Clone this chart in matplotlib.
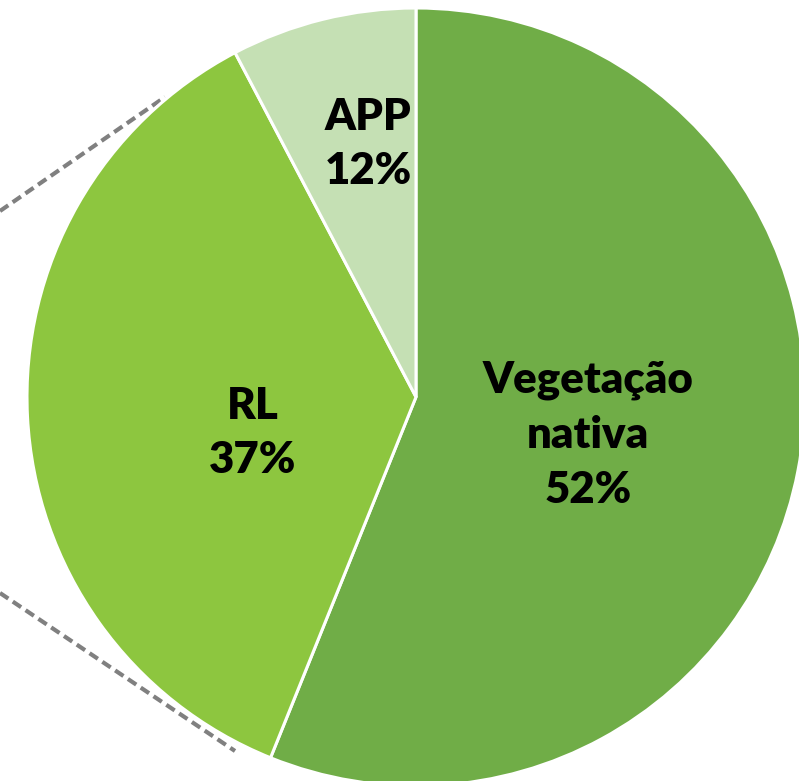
import matplotlib
matplotlib.use('Agg')
import matplotlib.pyplot as plt

names = ['Vegetação\nnativa', 'RL', 'APP']
shares = [56.1, 36.2, 7.7]
pct_text = ['52%', '37%', '12%']
colors = ['#70AD47', '#8DC63F', '#C5E0B4']

# connector lines of the pie-of-pie (pixel coords, y from top)
upper_line = ([0, 165], [211, 97])
lower_line = ([0, 235], [593, 751])

W, H = 799, 781
fig = plt.figure(figsize=(W / 100, H / 100), dpi=100)
ax = fig.add_axes([0, 0, 1, 1])

# dashed connectors go under the pie
for xs, ys in (upper_line, lower_line):
  ax.plot(xs, [H - y for y in ys], color='#808080', lw=3.0,
          dashes=(2.4, 1.3), solid_capstyle='butt', zorder=1)

cx, cy, r = 416, H - 397, 389
wedges, _ = ax.pie(shares, colors=colors, startangle=90, counterclock=False,
                   center=(cx, cy), radius=r, frame=True,
                   wedgeprops=dict(edgecolor='white', linewidth=2.2))
for w in wedges:
  w.set_zorder(2)
ax.set_xlim(0, W)
ax.set_ylim(0, H)
ax.axis('off')

label_pos = [(588, 435), (253, 433), (368, 144)]
for name, pct, (x, y) in zip(names, pct_text, label_pos):
  ax.text(x, H - y, name + '\n' + pct, ha='center', va='center',
          fontsize=31.5, fontweight='heavy', family='Lato',
          linespacing=1.45, color='black', zorder=3)

fig.savefig('out.png', dpi=100)
